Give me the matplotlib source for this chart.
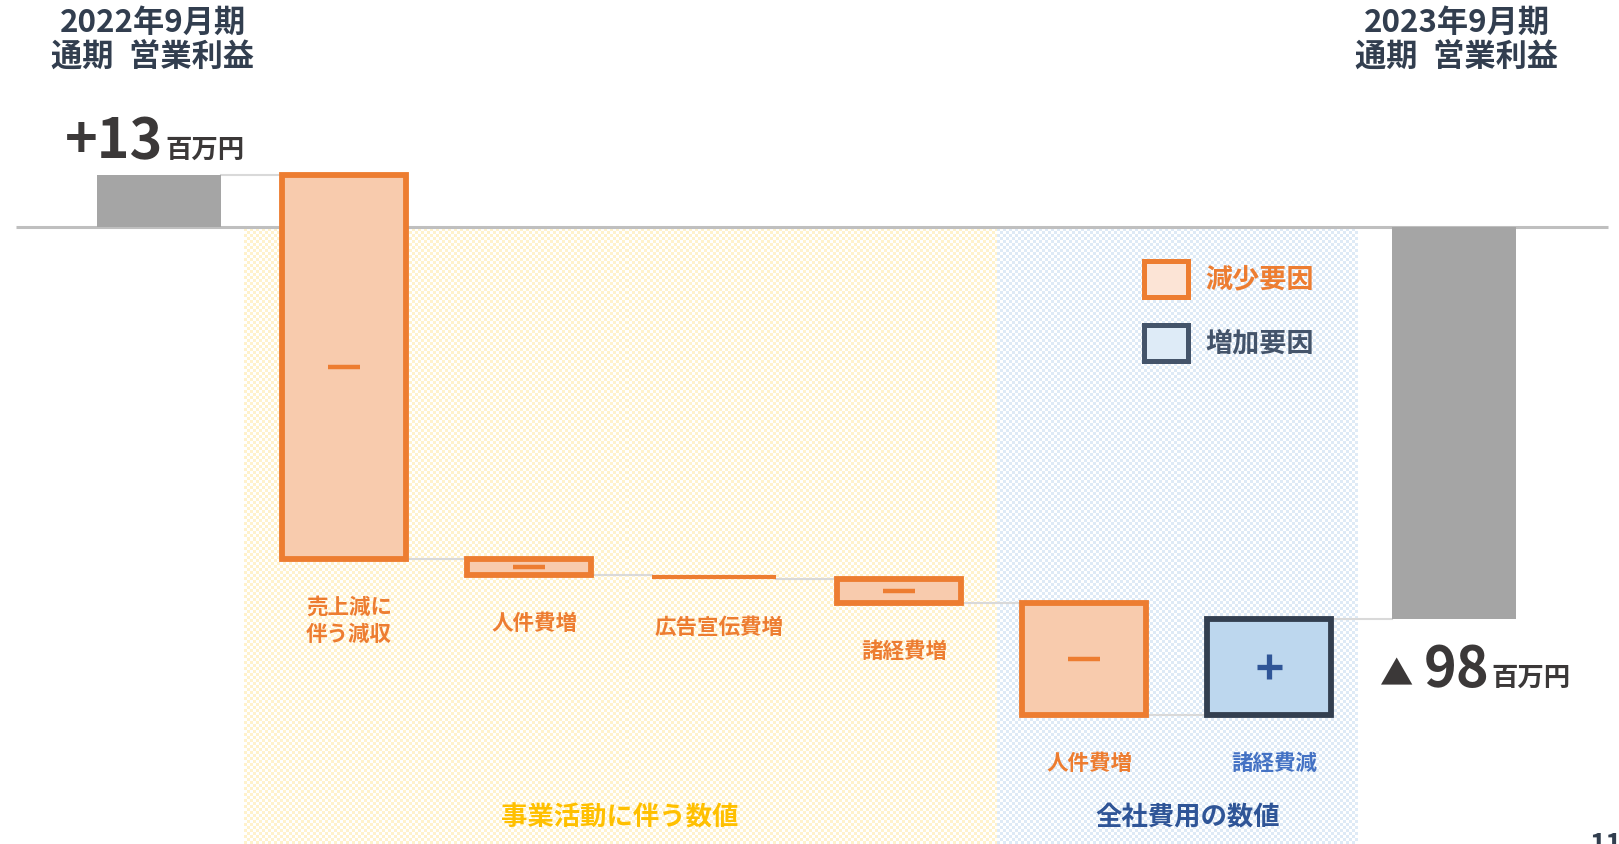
import numpy as np
import matplotlib.pyplot as plt
from matplotlib.colors import to_rgb
from matplotlib.patches import Rectangle

plt.rcParams['font.family'] = ['Noto Sans CJK JP', 'DejaVu Sans']

# 営業利益の増減（百万円）
start_value = 13
end_value = -98
step_labels = ["売上減に\n伴う減収", "人件費増", "広告宣伝費増", "諸経費増", "人件費増", "諸経費減"]
step_values = [-96, -4, -1, -6, -28, 24]
period_labels = ["2022年9月期\n通期\u2002営業利益", "2023年9月期\n通期\u2002営業利益"]
group_labels = ["事業活動に伴う数値", "全社費用の数値"]
legend_labels = ["減少要因", "増加要因"]

# レイアウト（x はピクセル相当、y は百万円）
x0, x_step = 159, 185
bar_w = 124
Y_TOP, Y_BOTTOM = 56.875, -154.375
ORANGE = '#ED7D31'
ORANGE_FILL = '#F8CBAD'
NAVY = '#333F50'
BLUE_FILL = '#BDD7EE'
GRAY = '#A5A5A5'
TEXT_DARK = '#3B3838'
TITLE = '#323E4F'

fig = plt.figure(figsize=(16.19, 8.45), dpi=100)
ax = fig.add_axes([0, 0, 1, 1])


def checker(left, right, color, cell=3):
    # 市松模様の背景
    nx = int((right - left) / cell)
    ny = int((0 - Y_BOTTOM) * 4 / cell)
    grid = np.add.outer(np.arange(ny), np.arange(nx)) % 2
    rgb = np.where(grid[..., None] == 0, np.array(to_rgb(color)), np.ones(3))
    ax.imshow(rgb, extent=(left, right, Y_BOTTOM, -0.4), interpolation='nearest',
              aspect='auto', zorder=0)


checker(244, 997, '#FFF2CC')
checker(997, 1358, '#DEEAF6')

ax.set_xlim(0, 1619)
ax.set_ylim(Y_BOTTOM, Y_TOP)
ax.axis('off')

ax.plot([16, 1608], [0, 0], color='#BFBFBF', lw=2.2, zorder=1, solid_capstyle='butt')

# 期首・期末
n = len(step_values)
x_start = x0
x_end = x0 + x_step * (n + 1)
ax.bar(x_start, start_value, width=bar_w, color=GRAY, zorder=3)
ax.bar(x_end, end_value, width=bar_w, color=GRAY, zorder=3)

running = start_value
prev_right = x_start + bar_w / 2
for i, (lab, v) in enumerate(zip(step_labels, step_values)):
    x = x0 + x_step * (i + 1)
    lo, hi = min(running, running + v), max(running, running + v)
    # 前の棒からのつなぎ線
    ax.plot([prev_right, x - bar_w / 2], [running, running], color='#D9D9D9', lw=1.5, zorder=2)
    if v > 0:
        fc, ec, tc = BLUE_FILL, NAVY, '#4472C4'
    else:
        fc, ec, tc = ORANGE_FILL, ORANGE, ORANGE
    mid = (lo + hi) / 2
    if abs(v) < 2:
        ax.plot([x - bar_w / 2, x + bar_w / 2], [mid, mid], color=ec, lw=3, zorder=3,
                solid_capstyle='butt')
    else:
        ax.add_patch(Rectangle((x - bar_w / 2, lo), bar_w, hi - lo, facecolor=fc,
                               edgecolor=ec, linewidth=4.2, zorder=3))
        if v < 0:
            ax.plot([x - 16, x + 16], [mid, mid], color=ORANGE, lw=3.2, zorder=4,
                    solid_capstyle='butt')
        else:
            ax.plot([x - 12.5, x + 12.5], [mid, mid], color='#2F5597', lw=3.8, zorder=4,
                    solid_capstyle='butt')
            ax.plot([x, x], [mid - 3.1, mid + 3.1], color='#2F5597', lw=3.8, zorder=4,
                    solid_capstyle='butt')
    ax.text(x + 5, lo - 9.3, lab, ha='center', va='top', color=tc, fontsize=15.5,
            fontweight='bold', linespacing=1.35, zorder=5)
    running += v
    prev_right = x + bar_w / 2

ax.plot([prev_right, x_end - bar_w / 2], [running, running], color='#D9D9D9', lw=1.5, zorder=2)

# 期首・期末の見出し
ax.text(153, 55.2, period_labels[0], ha='center', va='top', color=TITLE, fontsize=22.5,
        fontweight='bold', linespacing=1.1)
ax.text(1457, 55.2, period_labels[1], ha='center', va='top', color=TITLE, fontsize=22.5,
        fontweight='bold', linespacing=1.1)

# 金額
ax.text(163, 17.4, f"+{start_value}", ha='right', va='baseline', color=TEXT_DARK,
        fontsize=40, fontweight='bold')
ax.text(165, 17.4, "百万円", ha='left', va='baseline', color=TEXT_DARK,
        fontsize=19, fontweight='bold')
ax.text(1413, -114.5, "▲", ha='right', va='baseline', color=TEXT_DARK, fontsize=24)
ax.text(1489, -114.5, f"{abs(end_value)}", ha='right', va='baseline', color=TEXT_DARK,
        fontsize=40, fontweight='bold')
ax.text(1491, -114.5, "百万円", ha='left', va='baseline', color=TEXT_DARK,
        fontsize=19, fontweight='bold')

# 凡例
ax.add_patch(Rectangle((1144, -17.6), 44, 9, facecolor='#FCE4D6', edgecolor=ORANGE,
                       linewidth=3.6, zorder=3))
ax.add_patch(Rectangle((1144, -33.6), 44, 9, facecolor='#DEEBF7', edgecolor='#44546A',
                       linewidth=3.6, zorder=3))
ax.text(1205, -13.1, legend_labels[0], ha='left', va='center', color=ORANGE, fontsize=19.5,
        fontweight='bold')
ax.text(1205, -29.1, legend_labels[1], ha='left', va='center', color='#44546A', fontsize=19.5,
        fontweight='bold')

# 区分名
ax.text(620, -147.6, group_labels[0], ha='center', va='center', color='#FFC000',
        fontsize=19, fontweight='bold')
ax.text(1188, -147.6, group_labels[1], ha='center', va='center', color='#2F5597',
        fontsize=19, fontweight='bold')

# ページ番号
ax.text(1590, -151.2, "11", ha='left', va='top', color=TITLE, fontsize=20, fontweight='bold')

fig.savefig('out.png', dpi=100)
